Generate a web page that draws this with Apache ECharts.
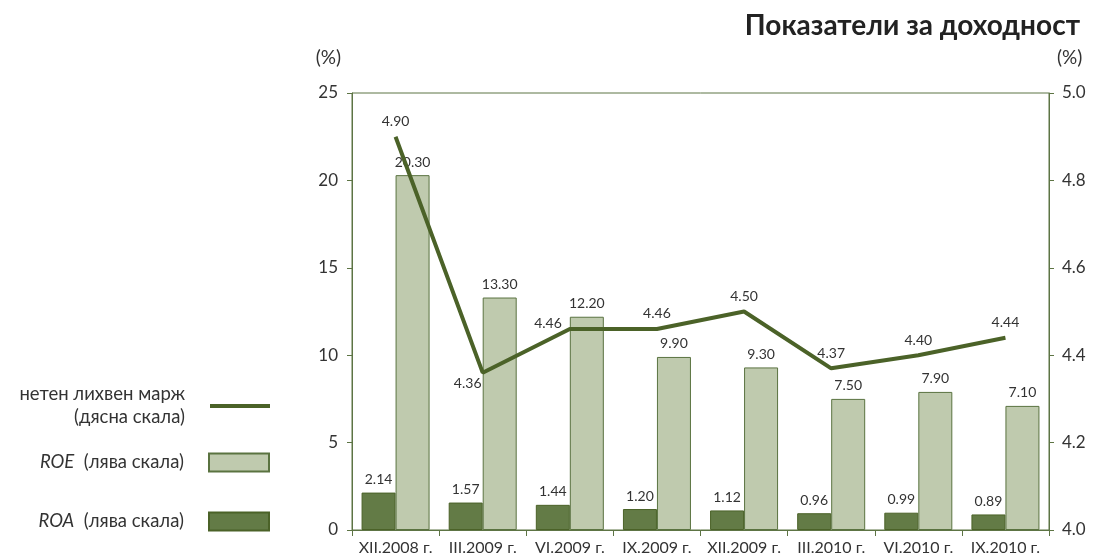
<!DOCTYPE html>
<html>
<head>
    <meta charset="UTF-8">
    <title>Показатели за доходност</title>
    <script type="text/javascript" src="https://cdn.jsdelivr.net/npm/echarts@6/dist/echarts.min.js"></script>
</head>
<body style="margin: 0;background: #ffffff;">
<div id="chart" style="width:1100px;height:556px;"></div>
<script>
    var categories = ['XII.2008 г.', 'III.2009 г.', 'VI.2009 г.', 'IX.2009 г.', 'XII.2009 г.', 'III.2010 г.', 'VI.2010 г.', 'IX.2010 г.'];
    var roa = [2.14, 1.57, 1.44, 1.20, 1.12, 0.96, 0.99, 0.89];
    var roe = [20.30, 13.30, 12.20, 9.90, 9.30, 7.50, 7.90, 7.10];
    var nim = [4.90, 4.36, 4.46, 4.46, 4.50, 4.37, 4.40, 4.44];

    var font = 'Lato';
    var txt = '#333333';
    var axisColor = '#5d7444';

    // line labels sit in different spots, like the original
    var nimData = nim.map(function (v, i) {
        var one = {value: v};
        if (i == 1) {
            one.label = {position: 'bottom', offset: [-15, -4]};
        } else if (i == 2) {
            one.label = {position: 'left', offset: [0, -5]};
        }
        return one;
    });

    function fmt(p) {
        return p.value.toFixed(2);
    }

    var legendBase = {
        orient: 'vertical',
        right: 830,
        padding: 0,
        itemWidth: 60,
        itemHeight: 18,
        align: 'right',
        icon: 'rect',
        selectedMode: false,
        textStyle: {
            fontFamily: font, fontSize: 18.5, color: txt, align: 'right', lineHeight: 23,
            padding: [0, 20, 0, 0],
            rich: {i: {fontFamily: font, fontSize: 18.5, fontStyle: 'italic', color: txt}}
        }
    };

    var option = {
        animation: false,
        title: {
            text: 'Показатели за доходност',
            right: 15,
            top: 7,
            textStyle: {fontFamily: font, fontSize: 28, fontWeight: 'bold', color: '#222'}
        },
        legend: [
            Object.assign({}, legendBase, {
                top: 383,
                itemHeight: 4,
                data: ['нетен лихвен марж'],
                formatter: function () { return 'нетен лихвен марж\n(дясна скала)'; }
            }),
            Object.assign({}, legendBase, {
                top: 451,
                data: ['ROE'],
                formatter: function () { return '{i|ROE}  (лява скала)'; }
            }),
            Object.assign({}, legendBase, {
                top: 510,
                data: ['ROA'],
                formatter: function () { return '{i|ROA}  (лява скала)'; }
            })
        ],
        grid: {
            left: 352, right: 51, top: 93, bottom: 25,
            show: true, borderColor: axisColor, borderWidth: 1
        },
        xAxis: {
            type: 'category',
            data: categories,
            axisLine: {lineStyle: {color: axisColor}},
            axisTick: {show: true, length: 6, lineStyle: {color: axisColor}},
            axisLabel: {interval: 0, hideOverlap: false, fontFamily: font, fontSize: 16, color: txt, margin: 10}
        },
        yAxis: [
            {
                type: 'value', min: 0, max: 25, interval: 5,
                name: '(%)', nameLocation: 'end', nameGap: 26,
                nameTextStyle: {fontFamily: font, fontSize: 19, color: txt, align: 'right', padding: [0, 11, 0, 0]},
                axisLine: {show: true, lineStyle: {color: axisColor}},
                axisTick: {show: true, length: 5, lineStyle: {color: axisColor}},
                splitLine: {show: false},
                axisLabel: {fontFamily: font, fontSize: 17, color: txt, margin: 14}
            },
            {
                type: 'value', min: 4.0, max: 5.0, interval: 0.2,
                name: '(%)', nameLocation: 'end', nameGap: 26,
                nameTextStyle: {fontFamily: font, fontSize: 19, color: txt, align: 'left', padding: [0, 0, 0, 8]},
                axisLine: {show: true, lineStyle: {color: axisColor}},
                axisTick: {show: true, length: 5, lineStyle: {color: axisColor}},
                splitLine: {show: false},
                axisLabel: {fontFamily: font, fontSize: 17, color: txt, margin: 13,
                    formatter: function (v) { return v.toFixed(1); }}
            }
        ],
        series: [
            {
                name: 'ROA',
                type: 'bar',
                data: roa,
                barWidth: 34,
                barGap: '0%',
                itemStyle: {color: '#637b46', borderColor: '#4b6228', borderWidth: 1},
                label: {show: true, position: 'top', distance: 6, fontFamily: font, fontSize: 14, color: txt, formatter: fmt}
            },
            {
                name: 'ROE',
                type: 'bar',
                data: roe,
                barWidth: 34,
                barGap: '0%',
                itemStyle: {color: '#bfcaae', borderColor: '#5a7340', borderWidth: 1},
                label: {show: true, position: 'top', distance: 6, fontFamily: font, fontSize: 14, color: txt, formatter: fmt}
            },
            {
                name: 'нетен лихвен марж',
                type: 'line',
                yAxisIndex: 1,
                data: nimData,
                symbol: 'circle',
                symbolSize: 0,
                showSymbol: true,
                lineStyle: {color: '#4b6228', width: 4},
                itemStyle: {color: '#4b6228'},
                z: 5,
                label: {show: true, position: 'top', distance: 8, fontFamily: font, fontSize: 14, color: txt, formatter: fmt}
            }
        ]
    };

    var chart = echarts.init(document.getElementById('chart'));
    chart.setOption(option);
</script>
</body>
</html>
